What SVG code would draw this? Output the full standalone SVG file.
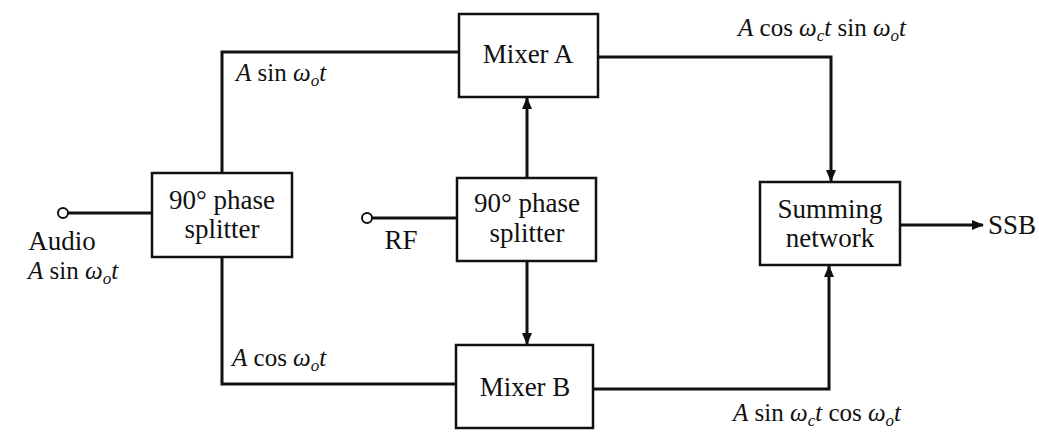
<svg xmlns="http://www.w3.org/2000/svg" width="1039" height="434" viewBox="0 0 1039 434">
<style>
.box{fill:#fff;stroke:#111;stroke-width:2.5}
.w{fill:none;stroke:#111;stroke-width:3}
.t{font-family:"Liberation Serif",serif;font-size:27px;fill:#111;text-anchor:middle}
.l{font-family:"Liberation Serif",serif;font-size:25px;fill:#111}
.i{font-style:italic}
.s{font-size:17px;font-style:italic}
.term{fill:#fff;stroke:#111;stroke-width:2}
</style>
<defs>
<marker id="ah" markerWidth="12" markerHeight="10" refX="11" refY="5" orient="auto" markerUnits="userSpaceOnUse">
<path d="M0,0 L12,5 L0,10 Z" fill="#111"/>
</marker>
</defs>
<rect width="1039" height="434" fill="#fff"/>
<g id="connectors">
<line class="w" x1="68" y1="213" x2="152" y2="213"/>
<polyline class="w" points="222,173 222,52 459,52"/>
<polyline class="w" points="222,257 222,384 456,384"/>
<line class="w" x1="372" y1="218" x2="457" y2="218"/>
<line class="w" x1="527" y1="178" x2="527" y2="98" marker-end="url(#ah)"/>
<line class="w" x1="527" y1="261" x2="527" y2="344" marker-end="url(#ah)"/>
<polyline class="w" points="598,57 831,57 831,181" marker-end="url(#ah)"/>
<polyline class="w" points="593,389 829,389 829,266" marker-end="url(#ah)"/>
<line class="w" x1="900" y1="225" x2="983" y2="225" marker-end="url(#ah)"/>
</g>
<g id="audio">
<circle class="term" cx="63" cy="213" r="5"/>
<text class="t" x="62" y="250">Audio</text>
<text class="l" x="28" y="279"><tspan class="i">A</tspan> sin <tspan class="i">ω</tspan><tspan class="s" dy="5">o</tspan><tspan class="i" dy="-5">t</tspan></text>
</g>
<g id="splitter1">
<rect class="box" x="152" y="173" width="140" height="84"/>
<text class="t" x="222" y="209">90° phase</text>
<text class="t" x="222" y="238">splitter</text>
</g>
<g id="rf">
<circle class="term" cx="367" cy="218" r="5"/>
<text class="t" x="401" y="249">RF</text>
</g>
<g id="splitter2">
<rect class="box" x="457" y="178" width="139" height="83"/>
<text class="t" x="527" y="212">90° phase</text>
<text class="t" x="527" y="242">splitter</text>
</g>
<g id="mixerA">
<rect class="box" x="459" y="14" width="139" height="83"/>
<text class="t" x="528" y="63">Mixer A</text>
</g>
<g id="mixerB">
<rect class="box" x="456" y="345" width="137" height="83"/>
<text class="t" x="525" y="396">Mixer B</text>
</g>
<g id="summing">
<rect class="box" x="760" y="182" width="140" height="83"/>
<text class="t" x="830" y="218">Summing</text>
<text class="t" x="830" y="247">network</text>
</g>
<g id="ssb">
<text class="t" x="1012" y="234">SSB</text>
</g>
<g id="labels">
<text class="l" x="236" y="81"><tspan class="i">A</tspan> sin <tspan class="i">ω</tspan><tspan class="s" dy="5">o</tspan><tspan class="i" dy="-5">t</tspan></text>
<text class="l" x="232" y="366"><tspan class="i">A</tspan> cos <tspan class="i">ω</tspan><tspan class="s" dy="5">o</tspan><tspan class="i" dy="-5">t</tspan></text>
<text class="l" x="738" y="36"><tspan class="i">A</tspan> cos <tspan class="i">ω</tspan><tspan class="s" dy="5">c</tspan><tspan class="i" dy="-5">t</tspan> sin <tspan class="i">ω</tspan><tspan class="s" dy="5">o</tspan><tspan class="i" dy="-5">t</tspan></text>
<text class="l" x="733" y="421"><tspan class="i">A</tspan> sin <tspan class="i">ω</tspan><tspan class="s" dy="5">c</tspan><tspan class="i" dy="-5">t</tspan> cos <tspan class="i">ω</tspan><tspan class="s" dy="5">o</tspan><tspan class="i" dy="-5">t</tspan></text>
</g>
</svg>
